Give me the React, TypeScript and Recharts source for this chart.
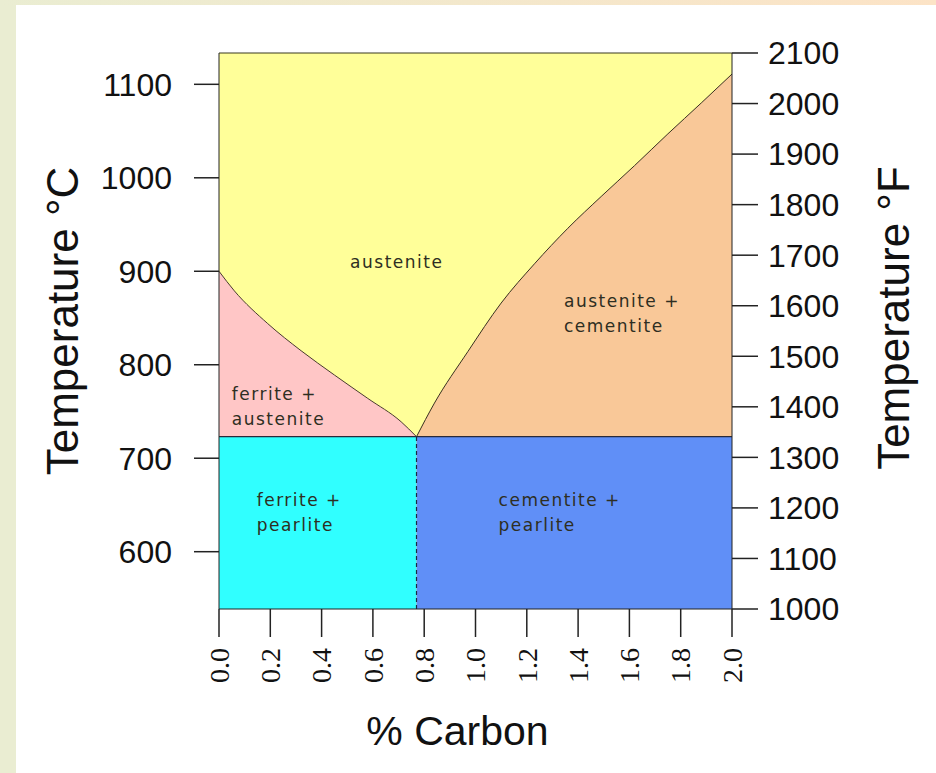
import {
  ComposedChart, Area, XAxis, YAxis, CartesianGrid,
  ReferenceArea, ReferenceLine, ReferenceDot,
} from 'recharts';

// % carbon sample points along the two phase boundaries
const carbon = [0, 0.06, 0.19, 0.32, 0.45, 0.58, 0.71, 0.77, 0.84, 0.97, 1.1, 1.23, 1.36, 1.49, 1.62, 1.75, 1.88, 2.0];
// A3 line (ferrite / austenite boundary), °C
const a3Line = [900, 879, 844, 815, 789, 764, 739, 723, null, null, null, null, null, null, null, null, null, null];
// Acm line (austenite / cementite boundary), °C
const acmLine = [null, null, null, null, null, null, null, 723, 759, 814, 866, 908, 946, 980, 1013, 1047, 1080, 1111];

const carbonTicks = [0, 0.2, 0.4, 0.6, 0.8, 1.0, 1.2, 1.4, 1.6, 1.8, 2.0];
const celsiusTicks = [600, 700, 800, 900, 1000, 1100];
const fahrenheitTicks = [1000, 1100, 1200, 1300, 1400, 1500, 1600, 1700, 1800, 1900, 2000, 2100];

const EUTECTOID_T = 723;
const EUTECTOID_C = 0.77;
const C_MIN = 538.7;
const C_MAX = 1133.5;

const phaseLabels = [
  { lines: ['austenite'], c: 0.693, t: 910, anchor: 'middle' },
  { lines: ['ferrite +', 'austenite'], c: 0.05, t: 769, anchor: 'start' },
  { lines: ['austenite +', 'cementite'], c: 1.345, t: 868, anchor: 'start' },
  { lines: ['ferrite +', 'pearlite'], c: 0.147, t: 655, anchor: 'start' },
  { lines: ['cementite +', 'pearlite'], c: 1.09, t: 655, anchor: 'start' },
];

const chartData = carbon.map((c, i) => ({ c, a3: a3Line[i], acm: acmLine[i] }));

const sans = "'Liberation Sans', Arial, sans-serif";
const serif = "'Liberation Serif', 'Times New Roman', serif";

function CarbonTick({ x, y, payload }: any) {
  return (
    <text
      x={x} y={y} transform={`rotate(-90 ${x} ${y})`}
      textAnchor="end" dy="0.35em"
      fontFamily={serif} fontSize={28} fill="#111"
    >
      {Number(payload.value).toFixed(1)}
    </text>
  );
}

function PhaseText({ cx, cy, lines, anchor }: { cx: number; cy: number; lines: string[]; anchor: string }) {
  return (
    <text
      x={cx} y={cy} textAnchor={anchor as any}
      fontFamily="'DejaVu Sans', Verdana, sans-serif" fontSize={17}
      letterSpacing={1.5} fill="#2e2e22"
    >
      {lines.map((l, i) => (
        <tspan key={i} x={cx} dy={i === 0 ? '0.35em' : 25}>{l}</tspan>
      ))}
    </text>
  );
}

export default function App() {
  return (
    <div style={{ position: 'absolute', left: 0, top: 0, width: 936, height: 773, background: '#fff', overflow: 'hidden' }}>
      <div style={{ position: 'absolute', left: 0, top: 0, width: 16, height: 773, background: '#EAEDD2' }} />
      <div style={{ position: 'absolute', left: 0, top: 0, width: 936, height: 5, background: 'linear-gradient(90deg, #EAEDD2, #FCE3C6)' }} />
      <div style={{ position: 'absolute', left: 0, top: 0 }}>
        <ComposedChart width={936} height={773} data={chartData} margin={{ top: 53, right: 0, bottom: 0, left: 0 }}>
          <CartesianGrid fill="#FFFF99" horizontal={false} vertical={false} />
          <XAxis
            dataKey="c" type="number" domain={[0, 2]} ticks={carbonTicks}
            allowDataOverflow height={164} tickSize={28} tickMargin={11}
            stroke="#222" tickLine={{ stroke: '#222', strokeWidth: 1.5 }}
            tick={<CarbonTick />}
            label={{ value: '% Carbon', position: 'insideBottom', offset: 28, dx: -18, style: { fontSize: 41, fill: '#111', fontFamily: sans } }}
          />
          <YAxis
            yAxisId="c" domain={[C_MIN, C_MAX]} ticks={celsiusTicks} allowDataOverflow
            width={219} tickSize={25} tickMargin={22} stroke="#222"
            tickLine={{ stroke: '#222', strokeWidth: 1.5 }}
            tick={{ fontSize: 32, fill: '#111', fontFamily: sans }}
            label={{ value: 'Temperature °C', angle: -90, position: 'insideLeft', offset: 62, dy: -10, style: { textAnchor: 'middle', fontSize: 44, fill: '#111', fontFamily: sans } }}
          />
          <YAxis
            yAxisId="f" orientation="right" domain={[1000, 2100]} ticks={fahrenheitTicks} allowDataOverflow
            width={204} tickSize={26} tickMargin={10} stroke="#222"
            tickLine={{ stroke: '#222', strokeWidth: 1.5 }}
            tick={{ fontSize: 32, fill: '#111', fontFamily: sans }}
            label={{ value: 'Temperature °F', angle: -90, position: 'insideRight', offset: 43, dy: -13, style: { textAnchor: 'middle', fontSize: 44, fill: '#111', fontFamily: sans } }}
          />

          <ReferenceArea yAxisId="c" x1={0} x2={EUTECTOID_C} y1={C_MIN} y2={EUTECTOID_T} fill="#30FFFF" fillOpacity={1} stroke="none" />
          <ReferenceArea yAxisId="c" x1={EUTECTOID_C} x2={2} y1={C_MIN} y2={EUTECTOID_T} fill="#608FF7" fillOpacity={1} stroke="none" />

          <Area yAxisId="c" type="monotone" dataKey="a3" baseValue={EUTECTOID_T} fill="#FFC6C6" fillOpacity={1} stroke="#4a3a30" strokeWidth={1} isAnimationActive={false} dot={false} activeDot={false} />
          <Area yAxisId="c" type="monotone" dataKey="acm" baseValue={EUTECTOID_T} fill="#F9C898" fillOpacity={1} stroke="#3a3020" strokeWidth={1} isAnimationActive={false} dot={false} activeDot={false} />

          <ReferenceLine yAxisId="c" y={EUTECTOID_T} stroke="#2a2a3a" strokeWidth={1.2} />
          <ReferenceLine yAxisId="c" y={C_MAX} stroke="#3a3a20" strokeWidth={1.2} />
          <ReferenceLine yAxisId="c" segment={[{ x: EUTECTOID_C, y: C_MIN }, { x: EUTECTOID_C, y: EUTECTOID_T }]} stroke="#1a2a40" strokeDasharray="4 3" strokeWidth={1.2} />

          {phaseLabels.map((l) => (
            <ReferenceDot
              key={l.lines.join(' ')} yAxisId="c" x={l.c} y={l.t} r={0}
              shape={(p: any) => <PhaseText cx={p.cx} cy={p.cy} lines={l.lines} anchor={l.anchor} />}
            />
          ))}
        </ComposedChart>
      </div>
    </div>
  );
}
